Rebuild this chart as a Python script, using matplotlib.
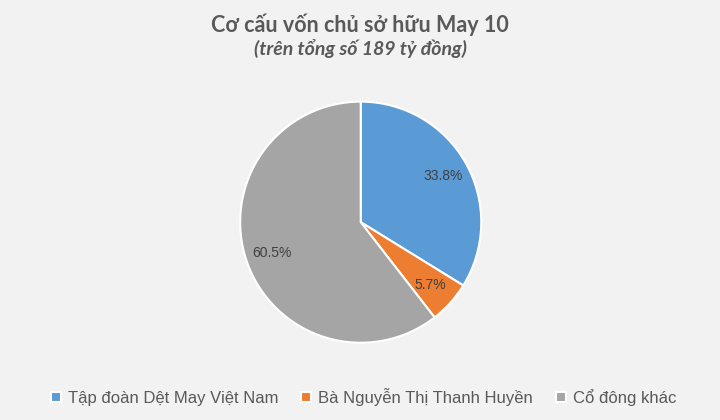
import matplotlib
matplotlib.use("Agg")
import matplotlib.pyplot as plt

plt.rcParams['font.family'] = ['Liberation Sans', 'DejaVu Sans']

categories = ["Tập đoàn Dệt May Việt Nam", "Bà Nguyễn Thị Thanh Huyền", "Cổ đông khác"]
values = [33.8, 5.7, 60.5]
colors = ["#5B9BD5", "#ED7D31", "#A5A5A5"]

bg = "#F2F2F2"
fig = plt.figure(figsize=(7.2, 4.2), dpi=100, facecolor=bg)

r = 0.287
ax = fig.add_axes([0.501 - r * 4.2 / 7.2, 0.471 - r, 2 * r * 4.2 / 7.2, 2 * r])
ax.set_facecolor(bg)
wedges, texts, autotexts = ax.pie(
    values, colors=colors, startangle=90, counterclock=False,
    autopct=lambda p: f"{p:.1f}%", pctdistance=0.78,
    wedgeprops=dict(edgecolor="white", linewidth=1.5),
    textprops=dict(color="#404040", fontsize=10),
)
ax.set_xlim(-1, 1)
ax.set_ylim(-1, 1)
ax.set_aspect("equal")

fig.text(0.5, 0.94, "Cơ cấu vốn chủ sở hữu May 10", ha="center", va="center",
         fontsize=15.5, fontweight="bold", color="#595959", family=['Lato', 'DejaVu Sans'])
fig.text(0.5, 0.885, "(trên tổng số 189 tỷ đồng)", ha="center", va="center",
         fontsize=14, fontweight="bold", style="italic", color="#595959", family=['Lato', 'DejaVu Sans'])

fig.legend(wedges, categories, loc="center", bbox_to_anchor=(0.505, 0.055), ncol=3,
           frameon=False, fontsize=12, labelcolor="#595959", handlelength=0.6,
           handleheight=0.6, handletextpad=0.4, columnspacing=1.4)

fig.savefig("out.png", dpi=100, facecolor=bg)
